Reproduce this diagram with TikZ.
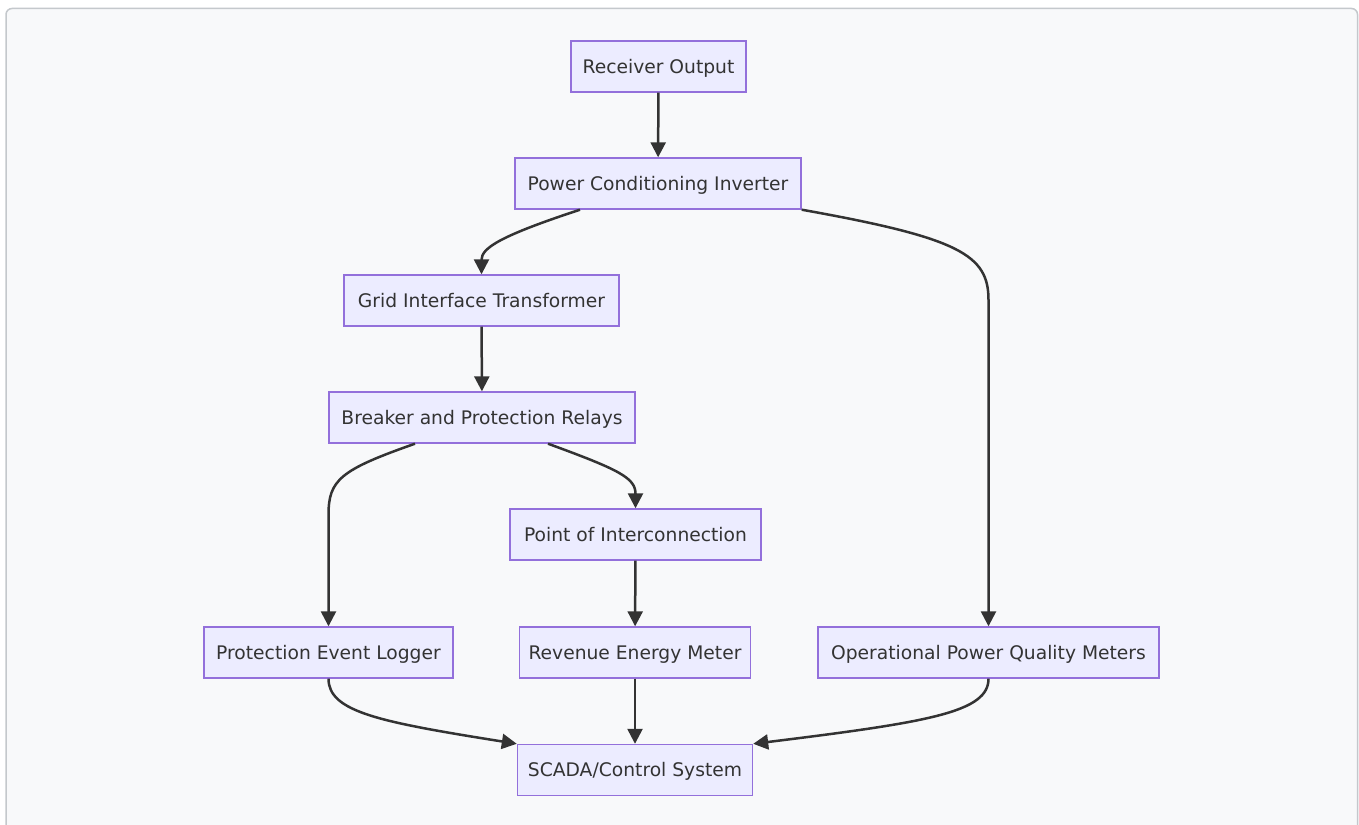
\documentclass[tikz,border=0pt]{standalone}
\usepackage{fontspec}
\setmainfont{DejaVu Sans}
\usetikzlibrary{arrows.meta,calc}
\definecolor{pagebg}{HTML}{F8F9FA}
\definecolor{framegray}{HTML}{C4C8CC}
\definecolor{boxfill}{HTML}{ECECFF}
\definecolor{boxline}{HTML}{9370DB}
\definecolor{ink}{HTML}{333333}
\begin{document}
\begin{tikzpicture}[x=1pt,y=-1pt,
  box/.style={draw=boxline,fill=boxfill,line width=1.4pt,minimum height=51pt,
    inner sep=0pt,text height=13.6pt,text depth=0pt,text=ink,
    font=\fontsize{18.7}{22}\selectfont},
  arr/.style={draw=ink,line width=2.5pt,-{Triangle[length=15pt,width=15pt]}}]
\useasboundingbox (0,0) rectangle (1359,824);
\fill[white] (0,0) rectangle (1359,824);
\begin{scope}
\clip (0,0) rectangle (1359,824);
\draw[framegray,fill=pagebg,line width=1.5pt,rounded corners=6pt] (6,8.5) rectangle (1357.5,850);
\end{scope}

% process blocks
\node[box,minimum width=175pt] (ro)    at (658.5,66.5)  {Receiver Output};
\node[box,minimum width=286pt] (pci)   at (658,183.5)   {Power Conditioning Inverter};
\node[box,minimum width=275pt] (git)   at (481.5,300.5) {Grid Interface Transformer};
\node[box,minimum width=306pt] (bpr)   at (482,417.5)   {Breaker and Protection Relays};
\node[box,minimum width=251pt] (poi)   at (635.5,534.5) {Point of Interconnection};
\node[box,minimum width=249pt] (pel)   at (328.5,652.5) {Protection Event Logger};
\node[box,minimum width=231pt] (rem)   at (635,652.5)   {Revenue Energy Meter};
\node[box,minimum width=341pt] (opq)   at (988.5,652.5) {Operational Power Quality Meters};
\node[box,minimum width=235pt] (scada) at (635,770)     {SCADA/Control System};

% power and data flow
\draw[arr] (ro) -- (pci);
\draw[arr] ([xshift=-78pt]pci.south) .. controls (500,236) and (481.5,248) .. (git.north);
\draw[arr] (pci.south east) .. controls (960,238) and (988.5,255) .. (988.5,300) -- (opq.north);
\draw[arr] (git) -- (bpr);
\draw[arr] ([xshift=-67pt]bpr.south) .. controls (340,470) and (328.5,480) .. (328.5,515) -- (pel.north);
\draw[arr] ([xshift=66pt]bpr.south) .. controls (620,470) and (635.5,478) .. (poi.north);
\draw[arr] (poi) -- (rem);
\draw[arr] (pel.south) .. controls (328.5,712) and (380,722) .. (scada.north west);
\draw[arr] (rem) -- (scada);
\draw[arr] (opq.south) .. controls (988.5,712) and (930,722) .. (scada.north east);
\end{tikzpicture}
\end{document}
